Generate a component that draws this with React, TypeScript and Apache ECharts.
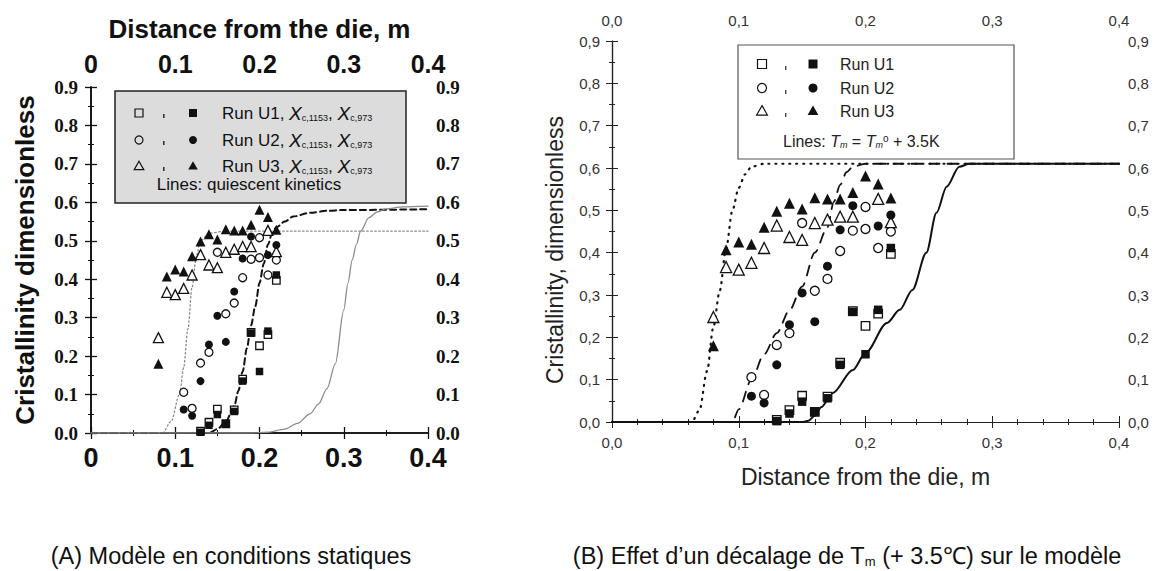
import React, { useEffect, useRef } from "react";
import * as echarts from "echarts";

// ---------- data ----------
const xRange = [0, 0.4];
const yRange = [0, 0.9];

// Run U1 (squares): open = X_c,1153 ; filled = X_c,973
const u1Open = [[0.13, 0.005], [0.14, 0.028], [0.15, 0.062], [0.16, 0.024], [0.17, 0.06], [0.18, 0.14], [0.19, 0.262], [0.2, 0.227], [0.21, 0.256], [0.22, 0.397]];
const u1Filled = [[0.13, 0.002], [0.14, 0.02], [0.15, 0.048], [0.16, 0.024], [0.17, 0.056], [0.18, 0.135], [0.19, 0.26], [0.2, 0.16], [0.21, 0.265], [0.22, 0.411]];
// Run U2 (circles)
const u2Open = [[0.11, 0.106], [0.12, 0.064], [0.13, 0.182], [0.14, 0.21], [0.15, 0.47], [0.16, 0.31], [0.17, 0.338], [0.18, 0.404], [0.19, 0.452], [0.2, 0.456], [0.2, 0.508], [0.21, 0.411], [0.22, 0.45]];
const u2Filled = [[0.11, 0.061], [0.12, 0.045], [0.13, 0.135], [0.14, 0.23], [0.15, 0.305], [0.16, 0.237], [0.17, 0.368], [0.18, 0.454], [0.19, 0.511], [0.21, 0.463], [0.22, 0.489]];
// Run U3 (triangles)
const u3Open = [[0.08, 0.248], [0.09, 0.366], [0.1, 0.36], [0.11, 0.376], [0.12, 0.411], [0.13, 0.464], [0.14, 0.437], [0.15, 0.43], [0.16, 0.47], [0.17, 0.478], [0.18, 0.485], [0.19, 0.485], [0.21, 0.527], [0.22, 0.472]];
const u3Filled = [[0.08, 0.18], [0.09, 0.407], [0.1, 0.425], [0.11, 0.42], [0.12, 0.46], [0.13, 0.498], [0.14, 0.517], [0.15, 0.503], [0.16, 0.53], [0.17, 0.527], [0.18, 0.527], [0.19, 0.542], [0.2, 0.581], [0.21, 0.562], [0.22, 0.529]];

// (A) quiescent kinetics model curves
const aDotted = [[0, 0], [0.085, 0], [0.095, 0.03], [0.105, 0.1], [0.11, 0.17], [0.115, 0.27], [0.12, 0.38], [0.125, 0.46], [0.13, 0.5], [0.14, 0.52], [0.16, 0.525], [0.4, 0.525]];
const aDashed = [[0, 0], [0.14, 0], [0.15, 0.01], [0.16, 0.03], [0.17, 0.07], [0.175, 0.11], [0.18, 0.16], [0.185, 0.22], [0.19, 0.28], [0.195, 0.33], [0.2, 0.39], [0.205, 0.44], [0.21, 0.49], [0.215, 0.52], [0.22, 0.535], [0.23, 0.55], [0.24, 0.563], [0.26, 0.573], [0.28, 0.578], [0.3, 0.58], [0.4, 0.582]];
const aSolid = [[0, 0], [0.19, 0], [0.21, 0.002], [0.23, 0.01], [0.245, 0.025], [0.26, 0.05], [0.27, 0.075], [0.28, 0.115], [0.29, 0.18], [0.3, 0.32], [0.305, 0.39], [0.31, 0.45], [0.315, 0.49], [0.32, 0.525], [0.33, 0.56], [0.34, 0.575], [0.35, 0.583], [0.37, 0.588], [0.4, 0.59]];

// (B) Tm = Tm0 + 3.5K model curves
const bDotted = [[0, 0], [0.063, 0], [0.069, 0.028], [0.075, 0.12], [0.08, 0.225], [0.085, 0.31], [0.09, 0.41], [0.095, 0.5], [0.1, 0.553], [0.105, 0.585], [0.11, 0.603], [0.12, 0.61], [0.4, 0.61]];
const bDashed = [[0, 0], [0.095, 0], [0.1, 0.03], [0.11, 0.1], [0.12, 0.16], [0.13, 0.21], [0.14, 0.264], [0.15, 0.32], [0.16, 0.4], [0.17, 0.46], [0.175, 0.52], [0.18, 0.56], [0.185, 0.59], [0.19, 0.603], [0.2, 0.61], [0.4, 0.61]];
const bSolid = [[0, 0], [0.15, 0], [0.155, 0.003], [0.16, 0.015], [0.165, 0.035], [0.174, 0.068], [0.19, 0.123], [0.2, 0.163], [0.217, 0.234], [0.227, 0.265], [0.237, 0.312], [0.248, 0.4], [0.256, 0.494], [0.264, 0.556], [0.274, 0.603], [0.282, 0.61], [0.4, 0.61]];

const legendRunsA = ["Run U1, {it|X}{sub|c,1153}, {it|X}{sub|c,973}", "Run U2, {it|X}{sub|c,1153}, {it|X}{sub|c,973}", "Run U3, {it|X}{sub|c,1153}, {it|X}{sub|c,973}"];
const legendRunsB = ["Run U1", "Run U2", "Run U3"];
const legendSymbols = ["square", "circle", "triangle"];
const captionA = "(A) Modèle en conditions statiques";
const captionB = "(B) Effet d’un décalage de T{sub|m} (+ 3.5℃) sur le modèle";
const yNameB = "Cristallinity, dimensionless";

const SANS = "Liberation Sans, Arial, Helvetica, sans-serif";
const SERIF = "Liberation Serif, Times New Roman, serif";

function scatter(name: string, data: number[][], symbol: string, filled: boolean, ax: number, size: number) {
  const sym = symbol === "square" ? "rect" : symbol;
  return {
    type: "scatter",
    name,
    data,
    symbol: sym,
    symbolSize: symbol === "triangle" ? size + 2 : symbol === "circle" ? size : size - 0.5,
    xAxisIndex: ax,
    yAxisIndex: ax,
    z: filled ? 5 : 4,
    itemStyle: {
      color: filled ? "#111" : "#fff",
      borderColor: "#111",
      borderWidth: filled ? 0 : 1.3,
      opacity: 1,
    },
  };
}

function curve(data: number[][], ax: number, color: string, width: number, type: any) {
  return {
    type: "line",
    data,
    xAxisIndex: ax,
    yAxisIndex: ax,
    symbol: "none",
    smooth: 0.3,
    smoothMonotone: "x",
    z: 2,
    lineStyle: { color, width, type, cap: "round" },
  };
}

function legendSymbol(kind: string, cx: number, cy: number, filled: boolean, s: number, bg: string) {
  const style = { fill: filled ? "#111" : bg, stroke: "#111", lineWidth: filled ? 0 : 1.2 };
  if (kind === "square") return { type: "rect", shape: { x: cx - s / 2, y: cy - s / 2, width: s, height: s }, style };
  if (kind === "circle") return { type: "circle", shape: { cx, cy, r: s / 2 }, style };
  return { type: "polygon", shape: { points: [[cx, cy - s * 0.6], [cx + s * 0.6, cy + s * 0.45], [cx - s * 0.6, cy + s * 0.45]] }, style };
}

export default function App() {
  const ref = useRef<HTMLDivElement>(null);
  useEffect(() => {
    if (!ref.current) return;
    const chart = echarts.init(ref.current, null, { renderer: "svg" });

    const fmtA = (v: number) => (v === 0 ? "0" : v.toFixed(1));
    const fmtAy = (v: number) => v.toFixed(1);
    const fmtB = (v: number) => v.toFixed(1).replace(".", ",");

    const axisLineA = { show: true, lineStyle: { color: "#111", width: 1.6 } };
    const axisLineB = { show: true, lineStyle: { color: "#222", width: 1.2 } };

    const xA = (position: string, labelSize: number, margin: number, extra: any = {}) => ({
      type: "value", gridIndex: 0, position, min: xRange[0], max: xRange[1], interval: 0.1,
      axisLine: axisLineA, axisTick: { show: true, inside: false, length: 6, lineStyle: { color: "#111", width: 1.3 } },
      minorTick: { show: true, splitNumber: 2, length: 3, lineStyle: { color: "#111" } },
      splitLine: { show: false },
      axisLabel: { formatter: fmtA, fontSize: labelSize, fontWeight: "bold", fontFamily: SANS, color: "#111", margin },
      ...extra,
    });
    const yA = (position: string, margin: number, extra: any = {}) => ({
      type: "value", gridIndex: 0, position, min: yRange[0], max: yRange[1], interval: 0.1,
      axisLine: axisLineA, axisTick: { show: true, inside: false, length: 6, lineStyle: { color: "#111", width: 1.3 } },
      minorTick: { show: true, splitNumber: 2, length: 3, lineStyle: { color: "#111" } },
      splitLine: { show: false },
      axisLabel: { formatter: fmtAy, fontSize: 19, fontWeight: "bold", fontFamily: SERIF, color: "#111", margin },
      ...extra,
    });
    const xB = (position: string, margin: number, extra: any = {}) => ({
      type: "value", gridIndex: 1, position, min: xRange[0], max: xRange[1], interval: 0.1,
      axisLine: axisLineB, axisTick: { show: true, inside: false, length: 6, lineStyle: { color: "#222" } },
      minorTick: { show: true, splitNumber: 5, length: 3, lineStyle: { color: "#222" } },
      splitLine: { show: false },
      axisLabel: { formatter: fmtB, fontSize: 15, fontFamily: SANS, color: "#333", margin },
      ...extra,
    });
    const yB = (position: string, margin: number, extra: any = {}) => ({
      type: "value", gridIndex: 1, position, min: yRange[0], max: yRange[1], interval: 0.1,
      axisLine: axisLineB, axisTick: { show: true, inside: false, length: 6, lineStyle: { color: "#222" } },
      minorTick: { show: true, splitNumber: 2, length: 3, lineStyle: { color: "#222" } },
      splitLine: { show: false },
      axisLabel: { formatter: fmtB, fontSize: 15, fontFamily: SANS, color: "#333", margin },
      ...extra,
    });

    const series: any[] = [];
    [0, 1].forEach((ax) => {
      const sz = ax === 0 ? 8 : 9;
      const xi = ax === 0 ? 0 : 2;
      if (ax === 0) {
        series.push(curve(aDotted, xi, "#8a8a8a", 1.3, [1.5, 2.5]));
        series.push(curve(aDashed, xi, "#111", 2, [6, 4]));
        series.push(curve(aSolid, xi, "#8a8a8a", 1.3, "solid"));
      } else {
        series.push(curve(bDotted, xi, "#111", 2.2, [1, 6]));
        series.push(curve(bDashed, xi, "#111", 1.8, [10, 8]));
        series.push(curve(bSolid, xi, "#111", 2, "solid"));
      }
      series.push(scatter("U1 open", u1Open, "square", false, xi, sz));
      series.push(scatter("U2 open", u2Open, "circle", false, xi, sz));
      series.push(scatter("U3 open", u3Open, "triangle", false, xi, sz));
      series.push(scatter("U1 filled", u1Filled, "square", true, xi, sz));
      series.push(scatter("U2 filled", u2Filled, "circle", true, xi, sz));
      series.push(scatter("U3 filled", u3Filled, "triangle", true, xi, sz));
    });

    // legends as graphic elements
    const graphic: any[] = [];
    const bgA = "#dcdcdc";
    graphic.push({ type: "rect", shape: { x: 115, y: 91, width: 291, height: 112 }, style: { fill: bgA, stroke: "#222", lineWidth: 1.5 }, z: 10 });
    const rowsA = [113, 140, 166];
    rowsA.forEach((y, i) => {
      graphic.push({ ...legendSymbol(legendSymbols[i], 139, y, false, 8, bgA), z: 11 });
      graphic.push({ type: "rect", shape: { x: 163, y: y + 1, width: 1.6, height: 4 }, style: { fill: "#333" }, z: 11 });
      graphic.push({ ...legendSymbol(legendSymbols[i], 193, y, true, 8, bgA), z: 11 });
      graphic.push({
        type: "text", x: 222, y, z: 11,
        style: {
          text: legendRunsA[i], font: "17px " + SANS, fill: "#111", textVerticalAlign: "middle",
          rich: {
            it: { fontStyle: "italic", fontSize: 19, fontFamily: SANS, fill: "#111" },
            sub: { fontSize: 9, fontFamily: SANS, fill: "#111", lineHeight: 4, verticalAlign: "bottom" },
          },
        },
      });
    });
    graphic.push({ type: "text", x: 249, y: 184, z: 11, style: { text: "Lines: quiescent kinetics", font: "17px " + SANS, fill: "#111", textAlign: "center", textVerticalAlign: "middle" } });

    graphic.push({ type: "rect", shape: { x: 738, y: 45, width: 276, height: 114 }, style: { fill: "#fff", stroke: "#555", lineWidth: 1.2 }, z: 10 });
    const rowsB = [64, 88, 111];
    rowsB.forEach((y, i) => {
      graphic.push({ ...legendSymbol(legendSymbols[i], 762, y, false, 9, "#fff"), z: 11 });
      graphic.push({ type: "rect", shape: { x: 785, y: y + 2, width: 1.4, height: 4 }, style: { fill: "#444" }, z: 11 });
      graphic.push({ ...legendSymbol(legendSymbols[i], 813, y, true, 9, "#fff"), z: 11 });
      graphic.push({ type: "text", x: 840, y, z: 11, style: { text: legendRunsB[i], font: "16px " + SANS, fill: "#222", textVerticalAlign: "middle" } });
    });
    graphic.push({
      type: "text", x: 783, y: 141, z: 11,
      style: {
        text: "Lines: {it|T}{sub|m} = {it|T}{sub|m}{sup|o} + 3.5K", font: "16px " + SANS, fill: "#222", textVerticalAlign: "middle",
        rich: {
          it: { fontStyle: "italic", fontSize: 16, fontFamily: SANS, fill: "#222" },
          sub: { fontStyle: "italic", fontSize: 9, fontFamily: SANS, fill: "#222", lineHeight: 4, verticalAlign: "bottom" },
          sup: { fontSize: 10, fontFamily: SANS, fill: "#222", lineHeight: 4, verticalAlign: "top" },
        },
      },
    });

    // right panel y-axis title (placed lower than the axis middle, as in the source)
    graphic.push({
      type: "text", x: 555, y: 250, rotation: Math.PI / 2,
      style: { text: yNameB, font: "23px " + SANS, fill: "#222", textAlign: "center", textVerticalAlign: "middle" },
    });

    // captions
    graphic.push({ type: "text", x: 231, y: 556, style: { text: captionA, font: "23.5px " + SANS, fill: "#111", textAlign: "center", textVerticalAlign: "middle" } });
    graphic.push({
      type: "text", x: 847, y: 556,
      style: {
        text: captionB, font: "23.5px " + SANS, fill: "#111", textAlign: "center", textVerticalAlign: "middle",
        rich: { sub: { fontSize: 13, fontFamily: SANS, fill: "#111", lineHeight: 6, verticalAlign: "bottom" } },
      },
    });

    const option: any = {
      animation: false,
      backgroundColor: "#fff",
      grid: [
        { left: 91, top: 87, width: 337, height: 346, containLabel: false },
        { left: 612, top: 41, width: 507, height: 381, containLabel: false },
      ],
      xAxis: [
        xA("bottom", 27, 11),
        xA("top", 25, 11, {
          name: "Distance from the die, m", nameLocation: "middle", nameGap: 45,
          nameTextStyle: { fontSize: 26, fontWeight: "bold", fontFamily: SANS, color: "#111" },
        }),
        xB("bottom", 13, {
          name: "Distance from the die, m", nameLocation: "middle", nameGap: 43,
          nameTextStyle: { fontSize: 23, fontFamily: SANS, color: "#222" },
        }),
        xB("top", 13),
      ],
      yAxis: [
        yA("left", 13, {
          name: "Cristallinity dimensionless", nameLocation: "middle", nameGap: 53,
          nameTextStyle: { fontSize: 26, fontWeight: "bold", fontFamily: SANS, color: "#111" },
        }),
        yA("right", 8),
        yB("left", 12),
        yB("right", 9),
      ],
      series,
      graphic,
    };
    chart.setOption(option);
    return () => chart.dispose();
  }, []);
  return <div ref={ref} style={{ position: "fixed", left: 0, top: 0, width: 1162, height: 571 }} />;
}
